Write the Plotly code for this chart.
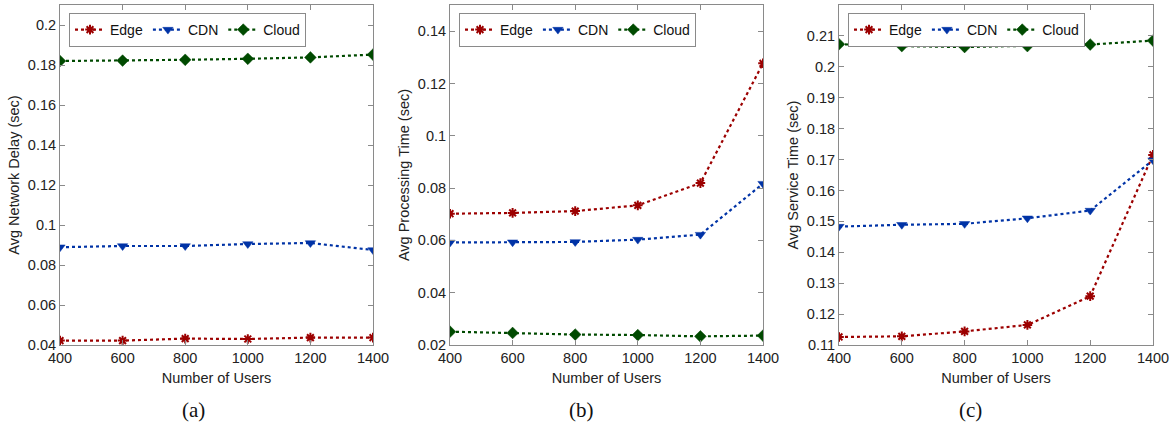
import plotly.graph_objects as go

users = [400, 600, 800, 1000, 1200, 1400]

# (a) Avg Network Delay (sec)
net_edge = [0.0422, 0.0422, 0.0432, 0.0430, 0.0437, 0.0437]
net_cdn = [0.0889, 0.0895, 0.0895, 0.0905, 0.0910, 0.0875]
net_cloud = [0.1820, 0.1822, 0.1826, 0.1831, 0.1838, 0.1852]

# (b) Avg Processing Time (sec)
proc_edge = [0.0702, 0.0705, 0.0712, 0.0734, 0.0819, 0.1277]
proc_cdn = [0.0592, 0.0593, 0.0594, 0.0603, 0.0622, 0.0817]
proc_cloud = [0.0251, 0.0246, 0.0240, 0.0238, 0.0233, 0.0236]

# (c) Avg Service Time (sec)
serv_edge = [0.1126, 0.1128, 0.1144, 0.1165, 0.1258, 0.1715]
serv_cdn = [0.1483, 0.1489, 0.1492, 0.1510, 0.1535, 0.1698]
serv_cloud = [0.2073, 0.2067, 0.2064, 0.2067, 0.2072, 0.2085]

series_names = ["Edge", "CDN", "Cloud"]
y_titles = ["Avg Network Delay (sec)", "Avg Processing Time (sec)", "Avg Service Time (sec)"]
captions = ["(a)", "(b)", "(c)"]

panels = [
    (net_edge, net_cdn, net_cloud),
    (proc_edge, proc_cdn, proc_cloud),
    (serv_edge, serv_cdn, serv_cloud),
]
y_ranges = [[0.04, 0.21], [0.02, 0.15], [0.11, 0.22]]
y_dticks = [0.02, 0.02, 0.01]

colors = ["#9c0000", "#0033a6", "#004a00"]
symbols = ["asterisk", "triangle-down", "diamond"]

W, H = 1173, 428
px_x = [(60, 373), (450, 763), (839, 1153)]
caption_x = [193, 581, 970]
y_top, y_bot = 5, 345

fig = go.Figure()
FONT = "Liberation Sans"
FS = 14.5
axis_gray = "#8a8a8a"

for p, data in enumerate(panels):
    xa = "x" if p == 0 else f"x{p+1}"
    ya = "y" if p == 0 else f"y{p+1}"
    lg = "legend" if p == 0 else f"legend{p+1}"
    for s, vals in enumerate(data):
        if s == 0:
            marker = dict(symbol=symbols[s], color=colors[s], size=8,
                          line=dict(color=colors[s], width=2))
        else:
            marker = dict(symbol=symbols[s], color=colors[s], size=9,
                          line=dict(color=colors[s], width=0.5))
        fig.add_trace(go.Scatter(
            x=users, y=vals, name=series_names[s], mode="lines+markers",
            line=dict(color=colors[s], width=2.2, dash="dot"),
            marker=marker, xaxis=xa, yaxis=ya, legend=lg, showlegend=True,
        ))

    x0, x1 = px_x[p]
    xdom = [x0 / W, x1 / W]
    ydom = [1 - y_bot / H, 1 - y_top / H]
    axcommon = dict(
        showline=True, linecolor=axis_gray, linewidth=1, mirror="ticks",
        ticks="inside", ticklen=5, tickcolor=axis_gray, showgrid=False,
        zeroline=False, automargin=False,
        tickfont=dict(family=FONT, size=FS, color="#222"),
    )
    fig.layout[("xaxis" if p == 0 else f"xaxis{p+1}")] = dict(
        domain=xdom, anchor=ya, range=[400, 1400], tickvals=users,
        title=dict(text="Number of Users", font=dict(family=FONT, size=FS, color="#222"), standoff=7),
        **axcommon,
    )
    fig.layout[("yaxis" if p == 0 else f"yaxis{p+1}")] = dict(
        domain=ydom, anchor=xa, range=y_ranges[p], dtick=y_dticks[p],
        tick0=y_ranges[p][0],
        title=dict(text=y_titles[p], font=dict(family=FONT, size=FS, color="#222"), standoff=4),
        **axcommon,
    )
    fig.layout[lg] = dict(
        x=(x0 + 9) / W, y=1 - 13 / H, xanchor="left", yanchor="top",
        orientation="h", bgcolor="white", bordercolor="#8a8a8a", borderwidth=1,
        font=dict(family=FONT, size=14, color="#111"),
        itemwidth=30, tracegroupgap=0,
        itemclick=False,
    )
    fig.add_annotation(
        x=caption_x[p] / W, y=1 - 410 / H, xref="paper", yref="paper",
        xanchor="center", yanchor="middle",
        text=captions[p], showarrow=False,
        font=dict(family="Liberation Serif", size=21, color="#111"),
    )

fig.update_layout(
    width=W, height=H, margin=dict(l=0, r=0, t=0, b=0),
    paper_bgcolor="white", plot_bgcolor="white", showlegend=True,
)

fig.write_html("out.html", config={"displayModeBar": False},
               post_script="document.body.style.margin='0';")
